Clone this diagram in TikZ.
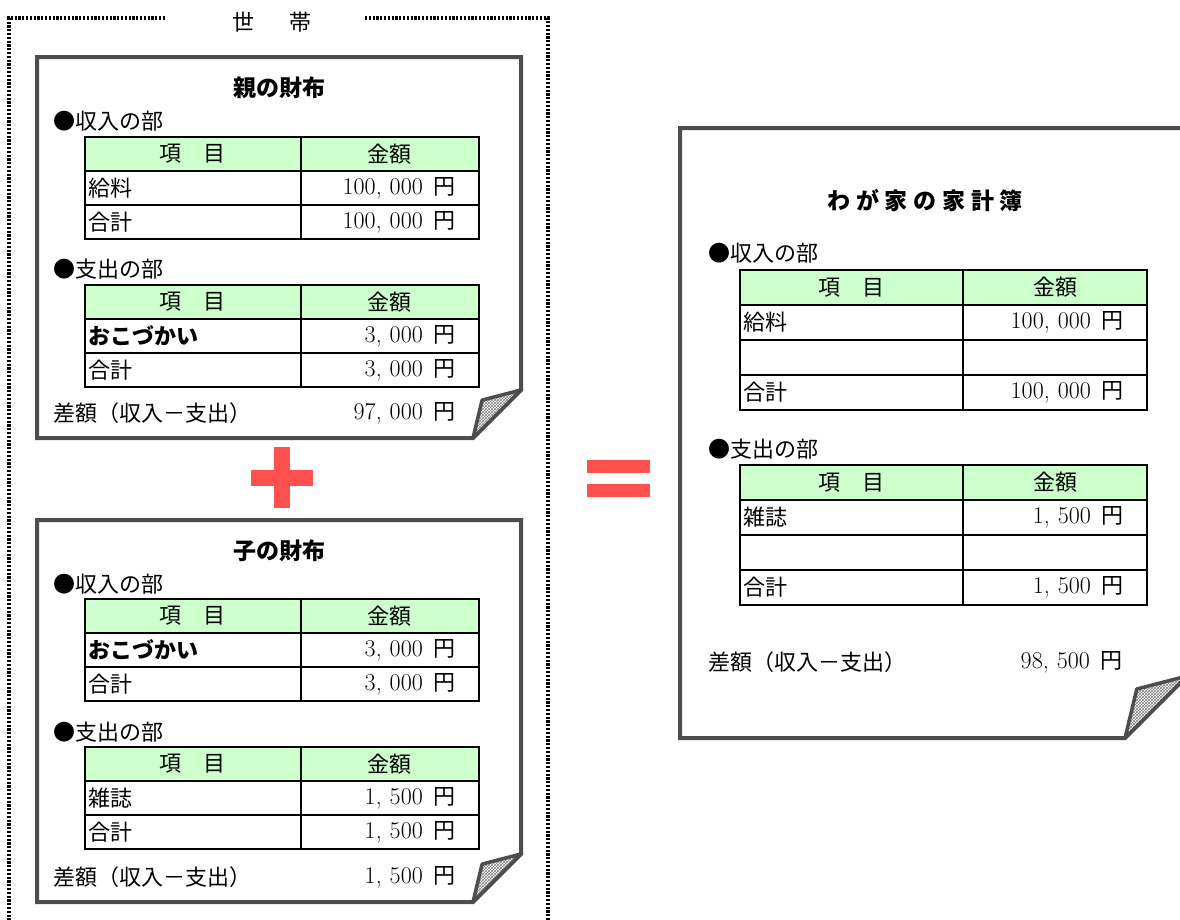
\documentclass[tikz,border=0pt]{standalone}
\usepackage{fontspec}
\newfontfamily\cjk{Noto Sans CJK JP}
\usetikzlibrary{patterns}

\definecolor{framegray}{RGB}{77,77,77}
\definecolor{headgreen}{RGB}{204,255,204}
\definecolor{signred}{RGB}{255,80,80}

\newcommand\amt[2]{{\rmfamily\fontsize{24}{26}\selectfont #1,\kern8pt#2}\kern11pt円}

\tikzset{
  pocket/.style={draw=framegray, line width=4pt, line join=miter, fill=white},
  flap/.style={draw=framegray, line width=3.5pt, line join=round, preaction={fill=white}, pattern=crosshatch, pattern color=gray},
  rule/.style={draw=black, line width=2pt},
  head/.style={fill=headgreen},
  headtext/.style={inner sep=0pt},
  itemtext/.style={anchor=west, inner sep=0pt, xshift=3pt},
  amttext/.style={anchor=east, inner sep=0pt},
  section/.style={anchor=west, inner sep=0pt},
  title/.style={inner sep=0pt, font=\cjk\bfseries\fontsize{23}{26}\selectfont},
  household/.style={draw=black, line width=3.5pt, dash pattern=on 2.2pt off 1.6pt},
  sign/.style={fill=signred}
}

\begin{document}
\begin{tikzpicture}[x=1pt, y=-1pt, font=\cjk\fontsize{22}{26}\selectfont]

\clip (0,0) rectangle (1180,919);

% wallet sheet with turned corner
\def\pocketframe(#1,#2,#3,#4,#5){
  \draw[pocket] (#1,#2) -- (#3,#2) -- (#3,{#4-#5}) -- ({#3-#5},#4) -- (#1,#4) -- cycle;
  \draw[flap] (#3,{#4-#5}) -- ({#3-0.81*#5},{#4-0.79*#5}) -- ({#3-#5},#4) -- cycle;
}

% ledger table: position, name, width, row height, rows
\def\ledger(#1,#2,#3,#4,#5)#6{
  \begin{scope}[shift={(#1,#2)}]
    \fill[head] (0,0) rectangle (#4,#5);
    \node[headtext] (#3-item) at ({0.274*#4},{#5/2}) {項　目};
    \node[headtext] (#3-amt) at ({0.774*#4},{#5/2}) {金額};
    \foreach \lab/\val [count=\i] in {#6} {
      \node[itemtext] (#3-l\i) at (0,{(\i+0.5)*#5}) {\lab};
      \node[amttext] (#3-r\i) at ({#4-23},{(\i+0.5)*#5}) {\val};
      \draw[rule] (0,{\i*#5}) -- (#4,{\i*#5});
      \xdef\nrows{\i}
    }
    \draw[rule] (0,0) rectangle (#4,{(\nrows+1)*#5});
    \draw[rule] ({0.548*#4},0) -- ({0.548*#4},{(\nrows+1)*#5});
  \end{scope}
}

% household frame
\draw[household] (165,18) -- (9,18) -- (9,930);
\draw[household] (365,18) -- (548,18) -- (548,930);
\node[inner sep=0pt] (setai) at (272,22) {世\kern36pt帯};

% parent
\pocketframe(37,57,521,438,48)
\node[title] (oya) at (279,88) {親の財布};
\node[section] (oya-in) at (53,121) {●収入の部};
\ledger(85,137,oyain,394,34){給料/\amt{100}{000}, 合計/\amt{100}{000}}
\node[section] (oya-out) at (53,269) {●支出の部};
\ledger(85,285,oyaout,394,34){{\bfseries おこづかい}/\amt{3}{000}, 合計/\amt{3}{000}}
\node[section] (oya-diff) at (53,413) {差額（収入－支出）};
\node[amttext] (oya-sum) at (456,413) {\amt{97}{000}};

% plus
\fill[sign] (274,447) rectangle (290,508);
\fill[sign] (251,470) rectangle (313,486);

% child
\pocketframe(37,520,521,902,48)
\node[title] (ko) at (279,551) {子の財布};
\node[section] (ko-in) at (53,584) {●収入の部};
\ledger(85,599,koin,394,34){{\bfseries おこづかい}/\amt{3}{000}, 合計/\amt{3}{000}}
\node[section] (ko-out) at (53,732) {●支出の部};
\ledger(85,747,koout,394,34){雑誌/\amt{1}{500}, 合計/\amt{1}{500}}
\node[section] (ko-diff) at (53,877) {差額（収入－支出）};
\node[amttext] (ko-sum) at (456,877) {\amt{1}{500}};

% equals
\fill[sign] (587,460) rectangle (650,473);
\fill[sign] (587,484) rectangle (650,497);

% household ledger
\pocketframe(680,128,1187,738,62)
\node[title, font=\cjk\bfseries\fontsize{23}{26}\selectfont\addfontfeature{LetterSpace=25}] (uchi) at (925,201) {わが家の家計簿};
\node[section] (uchi-in) at (708,253) {●収入の部};
\ledger(740,270,uchiin,407,35){給料/\amt{100}{000}, {}/{}, 合計/\amt{100}{000}}
\node[section] (uchi-out) at (708,449) {●支出の部};
\ledger(740,465,uchiout,407,35){雑誌/\amt{1}{500}, {}/{}, 合計/\amt{1}{500}}
\node[section] (uchi-diff) at (708,662) {差額（収入－支出）};
\node[amttext] (uchi-sum) at (1123,662) {\amt{98}{500}};

\end{tikzpicture}
\end{document}
